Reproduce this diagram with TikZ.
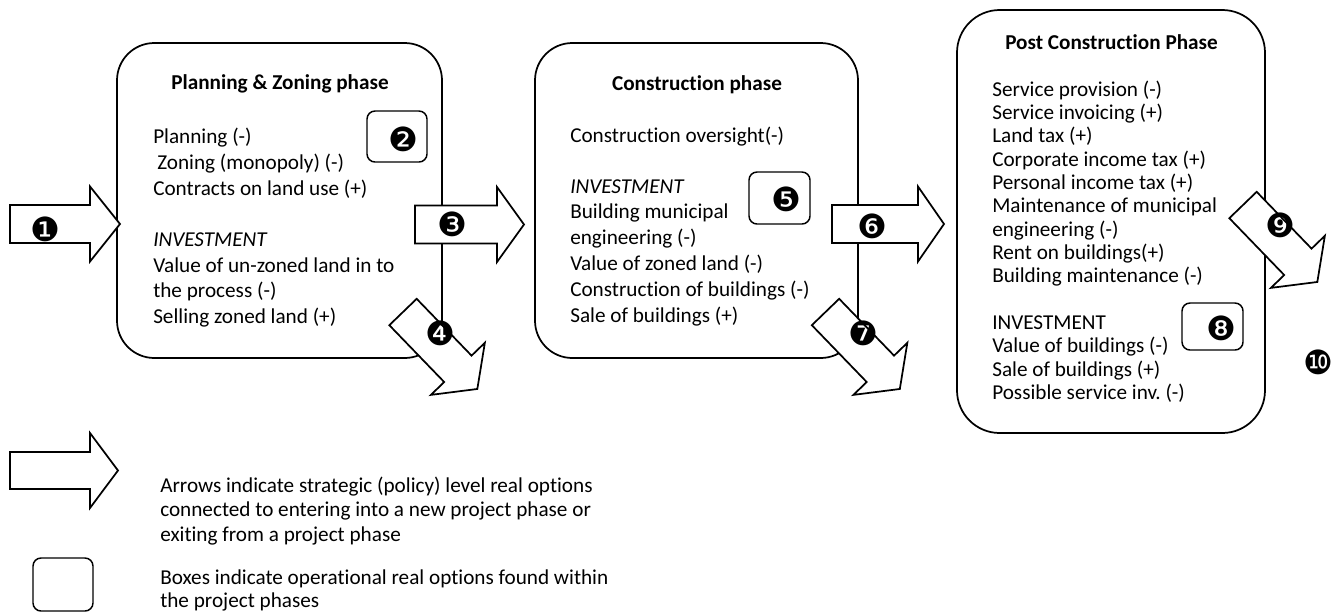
\documentclass[tikz,border=0pt]{standalone}
\usepackage{fontspec}
\setmainfont{Carlito}[Ligatures={NoCommon}]
\newfontfamily\dingfont{DejaVu Sans}
\frenchspacing

\tikzset{
  phase/.style={draw, line width=1.3pt, inner sep=0pt},
  optbox/.style={draw, line width=1.1pt, rounded corners=6pt, inner sep=0pt},
  blockarrow/.style={draw, fill=white, line width=1.3pt, line join=miter},
  txt/.style={anchor=base west, inner sep=0pt, font=\fontsize{15.9}{19}\selectfont},
  ttl/.style={anchor=base, inner sep=0pt, font=\fontsize{15.9}{19}\selectfont\bfseries},
  num/.style={inner sep=0pt, font=\fontsize{25}{25}\selectfont\dingfont},
}

\begin{document}
\begin{tikzpicture}[x=0.75pt,y=0.75pt,yscale=-1,xscale=1]
\useasboundingbox (0,0) rectangle (1340,612);

% phase boxes
\node[phase, rounded corners=28pt, minimum width=243.75pt, minimum height=236.25pt] (plan) at (279.5,200.5) {};
\node[phase, rounded corners=28pt, minimum width=242.25pt, minimum height=236.25pt] (constr) at (696.5,200.5) {};
\node[phase, rounded corners=32pt, minimum width=231pt, minimum height=317.25pt] (post) at (1111,221.5) {};

% operational option boxes
\node[optbox, minimum width=45pt, minimum height=38.25pt] (opt2) at (397,136.5) {};
\node[optbox, minimum width=45.75pt, minimum height=39pt] (opt5) at (779.5,198) {};
\node[optbox, minimum width=45.75pt, minimum height=35.25pt] (opt8) at (1212.5,326.5) {};
\node[optbox, minimum width=45pt, minimum height=39.75pt] (legbox) at (63,584.5) {};

% titles
\node[ttl] (plantitle) at (280,89) {Planning \& Zoning phase};
\node[ttl] (constrtitle) at (697,90) {Construction phase};
\node[ttl] (posttitle) at (1111.5,49) {Post Construction Phase};

% box texts
\foreach \y/\t [count=\i] in {143/Planning (-), 195/Contracts on land use (+), 246/\textit{INVESTMENT}, 272/Value of un-zoned land in to, 297/the process (-), 323/Selling zoned land (+)}
  \node[txt] (pl\i) at (153,\y) {\t};
\node[txt] (pl0) at (157,169) {Zoning (monopoly) (-)};

\foreach \y/\t [count=\i] in {142/Construction oversight(-), 193/\textit{INVESTMENT}, 218.8/Building municipal, 244.6/engineering (-), 270.4/Value of zoned land (-), 296.2/Construction of buildings (-), 322/Sale of buildings (+)}
  \node[txt] (co\i) at (570,\y) {\t};

\foreach \y/\t [count=\i] in {96/Service provision (-), 119.4/Service invoicing (+), 142.7/Land tax (+), 166.1/Corporate income tax (+), 189.4/Personal income tax (+), 212.8/Maintenance of municipal, 236.1/engineering (-), 259.5/Rent on buildings(+), 282.8/Building maintenance (-), 329.5/INVESTMENT, 352.9/Value of buildings (-), 376.2/Sale of buildings (+), 399.6/Possible service inv. (-)}
  \node[txt] (po\i) at (992,\y) {\t};

% legend
\node[txt] (leg1) at (160,492) {Arrows indicate strategic (policy) level real options};
\node[txt] (leg2) at (160,516.5) {connected to entering into a new project phase or};
\node[txt] (leg3) at (160,541) {exiting from a project phase};
\node[txt] (leg4) at (160,584) {Boxes indicate operational real options found within};
\node[txt] (leg5) at (160,607) {the project phases};

% strategic option arrows
\draw[blockarrow] (10,205) -- (90,205) -- (90,186.5) -- (120,224) -- (90,261.5) -- (90,243) -- (10,243) -- cycle;
\draw[blockarrow] (415,205.5) -- (497,205.5) -- (497,187) -- (524,224.5) -- (497,262) -- (497,243.5) -- (415,243.5) -- cycle;
\draw[blockarrow] (832,205) -- (918,205) -- (918,186.5) -- (944,224) -- (918,261.5) -- (918,243) -- (832,243) -- cycle;
\draw[blockarrow] (10,452) -- (90,452) -- (90,433) -- (118,470.5) -- (90,508) -- (90,489) -- (10,489) -- cycle;

\begin{scope}[shift={(403,312)}, rotate=46]
\draw[blockarrow] (0,-19) -- (79,-19) -- (79,-37.5) -- (107,0) -- (79,37.5) -- (79,19) -- (0,19) -- cycle;
\end{scope}
\begin{scope}[shift={(825.5,312)}, rotate=46]
\draw[blockarrow] (0,-19) -- (79,-19) -- (79,-37.5) -- (107,0) -- (79,37.5) -- (79,19) -- (0,19) -- cycle;
\end{scope}
\begin{scope}[shift={(1243,205)}, rotate=46]
\draw[blockarrow] (0,-19) -- (79,-19) -- (79,-37.5) -- (107,0) -- (79,37.5) -- (79,19) -- (0,19) -- cycle;
\end{scope}

% option numbers
\node[num] (n1) at (45,229) {❶};
\node[num] (n2) at (403,139) {❷};
\node[num] (n3) at (452,224) {❸};
\node[num] (n4) at (440,333) {❹};
\node[num] (n5) at (786,199) {❺};
\node[num] (n6) at (872,226) {❻};
\node[num] (n7) at (863,333) {❼};
\node[num] (n8) at (1221,328) {❽};
\node[num] (n9) at (1280,225) {❾};
\node[num] (n10) at (1318,362) {❿};
\end{tikzpicture}
\end{document}
